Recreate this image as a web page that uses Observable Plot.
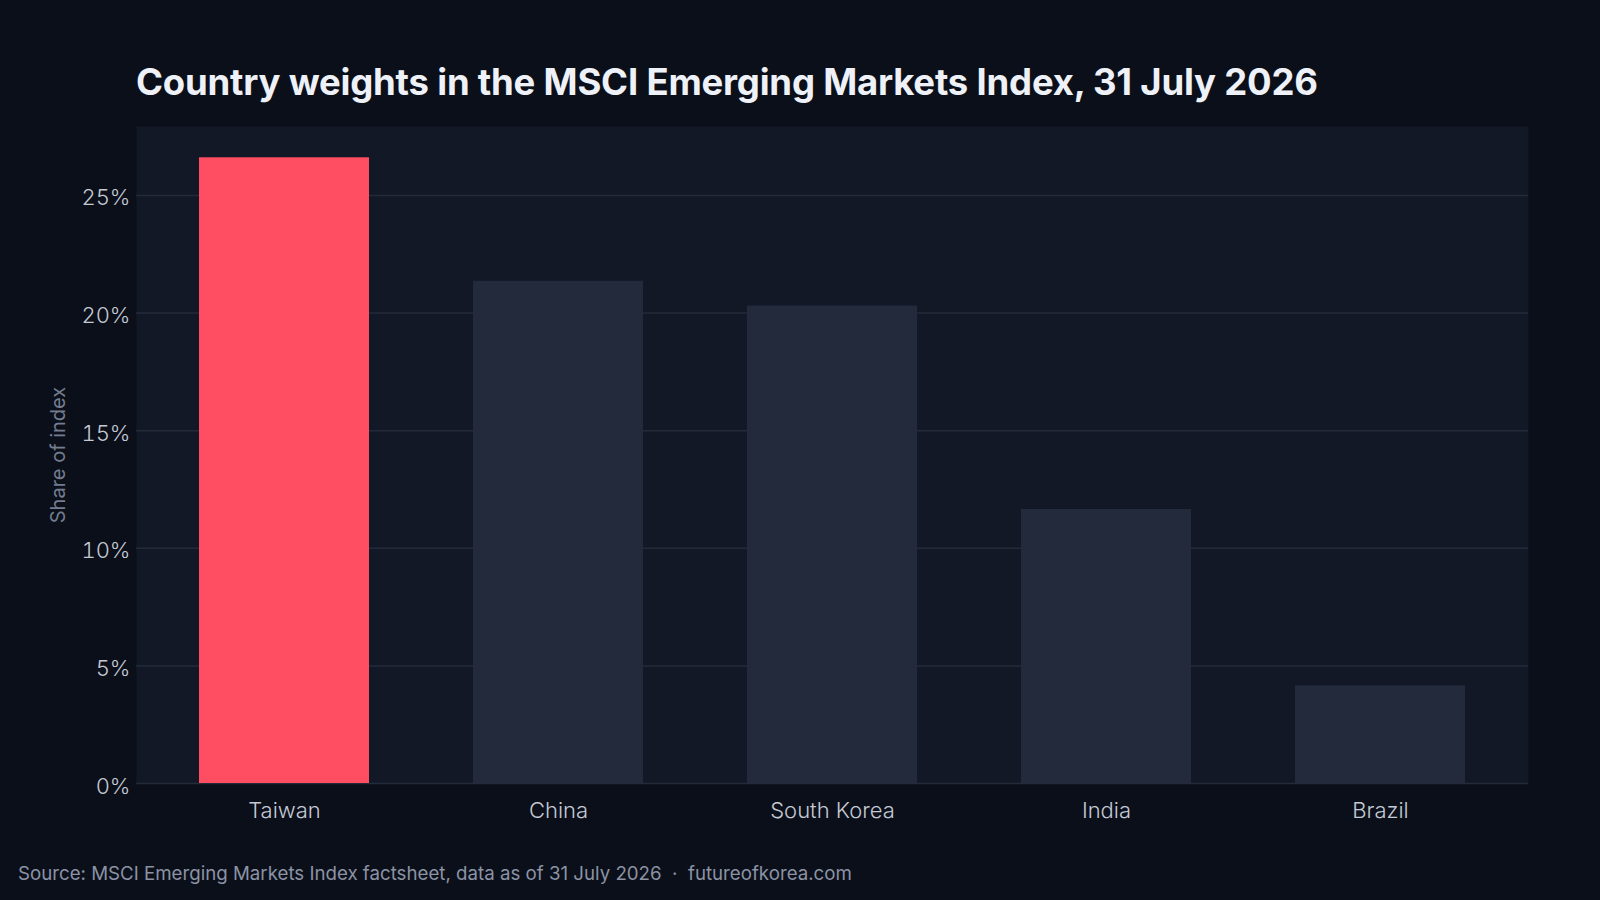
<!DOCTYPE html>
<html>
<head>
<meta charset="utf-8">
<script src="https://cdn.jsdelivr.net/npm/d3@7"></script>
<script src="https://cdn.jsdelivr.net/npm/@observablehq/plot@0.6"></script>
<style>
  html, body { margin: 0; padding: 0; background: #0b0f1a; }
  body { width: 1600px; height: 900px; position: relative; overflow: hidden; font-family: Inter, "Noto Sans", sans-serif; }
  #title { position: absolute; left: 136px; top: 58px; margin: 0; color: #eef1f7; font-family: Inter, sans-serif; font-weight: 700; font-size: 36.5px; letter-spacing: -0.2px; line-height: 48px; white-space: nowrap; }
  #chart { position: absolute; left: 0; top: 110px; }
  #footer { position: absolute; left: 18px; top: 860px; color: #8b93a5; font-size: 18.7px; font-weight: 400; line-height: 28px; white-space: nowrap; letter-spacing: 0; }
</style>
</head>
<body>
<h1 id="title">Country weights in the MSCI Emerging Markets Index, 31 July 2026</h1>
<div id="chart"></div>
<div id="footer">Source: MSCI Emerging Markets Index factsheet, data as of 31 July 2026 &nbsp;·&nbsp; futureofkorea.com</div>
<script>
const countries = ["Taiwan", "China", "South Korea", "India", "Brazil"];
const weights = [26.6, 21.35, 20.3, 11.65, 4.15];
const highlight = "Taiwan";
const yTicks = [0, 5, 10, 15, 20, 25];
const yLabel = "Share of index";

const data = countries.map((c, i) => ({country: c, weight: weights[i]}));
const yMax = d3.max(weights) * 1.05;

const chart = Plot.plot({
  width: 1600,
  height: 730,
  marginLeft: 136,
  marginRight: 72,
  marginTop: 16,
  marginBottom: 57,
  style: {background: "transparent", fontFamily: "Inter, sans-serif", overflow: "visible"},
  x: {domain: countries, paddingInner: 0.38, paddingOuter: 0.23, label: null},
  y: {domain: [0, yMax], label: null},
  marks: [
    Plot.frame({fill: "#121826", stroke: null}),
    Plot.ruleY(yTicks, {stroke: "#232a3a", strokeWidth: 1.5}),
    Plot.barY(data, {x: "country", y: "weight", fill: d => d.country === highlight ? "#ff4d61" : "#222a3c"}),
    Plot.axisY({ticks: yTicks, tickSize: 0, tickPadding: 6, dy: 3, tickFormat: d => d + "%", fontSize: 22, fontWeight: 300, fill: "#c4c9d4", label: yLabel, labelAnchor: "center", labelOffset: 86, labelArrow: "none"}),
    Plot.axisX({tickSize: 0, tickPadding: 19, fontSize: 22, fontWeight: 300, fill: "#c4c9d4", label: null})
  ]
});
document.getElementById("chart").appendChild(chart);

// style the y-axis label
d3.select(chart).selectAll("[aria-label='y-axis label'] text, [aria-label='y-axis label']")
  .attr("fill", "#747c8f").style("font-size", "20px").style("font-weight", "400");
</script>
</body>
</html>
